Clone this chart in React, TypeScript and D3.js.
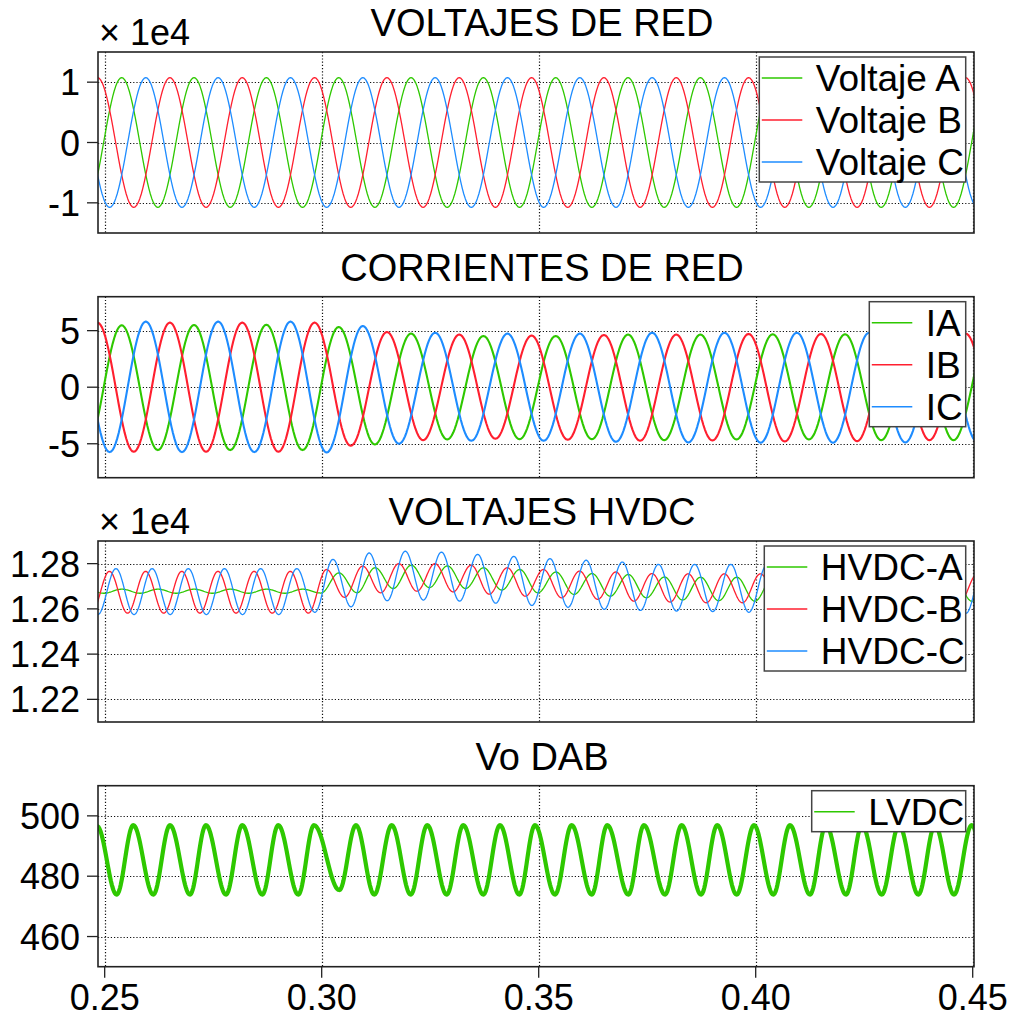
import React from 'react';
import * as d3 from 'd3';

// ---------- axes ----------
const X_DOMAIN = [0.24846, 0.4503];
const X_TICKS = [0.25, 0.3, 0.35, 0.4, 0.45];
const HALF_60HZ = 1 / 120;
const HALF_120HZ = 1 / 240;

// ---------- VOLTAJES DE RED (V), extrema every half period ----------
const VOLT_A_START = 0.24559; // first extremum (trough)
const VOLT_A = [-10750, 10750, -10750, 10750, -10750, 10750, -10750, 10750, -10750, 10750, -10750, 10750, -10750, 10750, -10750, 10750, -10750, 10750, -10750, 10750, -10750, 10750, -10750, 10750, -10750, 10750];
const VOLT_B_START = 0.24003; // trough
const VOLT_B = [-10750, 10750, -10750, 10750, -10750, 10750, -10750, 10750, -10750, 10750, -10750, 10750, -10750, 10750, -10750, 10750, -10750, 10750, -10750, 10750, -10750, 10750, -10750, 10750, -10750, 10750, -10750];
const VOLT_C_START = 0.24281; // peak
const VOLT_C = [10750, -10750, 10750, -10750, 10750, -10750, 10750, -10750, 10750, -10750, 10750, -10750, 10750, -10750, 10750, -10750, 10750, -10750, 10750, -10750, 10750, -10750, 10750, -10750, 10750, -10750];

// ---------- CORRIENTES DE RED (A) ----------
const CUR_A = [-5.56, 5.47, -5.56, 5.5, -5.56, 5.52, -5.56, 5.32, -5.06, 4.74, -4.62, 4.53, -4.6, 4.53, -4.6, 4.65, -4.68, 4.65, -4.62, 4.68, -4.62, 4.68, -4.68, 4.65, -4.68, 4.68];
const CUR_B = [-5.7, 5.7, -5.71, 5.71, -5.71, 5.71, -5.71, 5.71, -5.18, 4.88, -4.68, 4.65, -4.56, 4.56, -4.65, 4.62, -4.74, 4.65, -4.71, 4.71, -4.8, 4.71, -4.77, 4.71, -4.68, 4.74, -4.7];
const CUR_C = [5.8, -5.74, 5.8, -5.74, 5.8, -5.74, 5.8, -5.77, 5.41, -5.0, 4.82, -4.74, 4.74, -4.74, 4.74, -4.83, 4.82, -4.88, 4.82, -4.9, 4.82, -4.9, 4.82, -4.88, 4.82, -4.88];

// ---------- VOLTAJES HVDC (V), extrema every half period of 120 Hz ----------
const HVDC_A_START = 0.245645; // peak
const HVDC_A = [12687, 12669, 12687, 12669, 12687, 12669, 12687, 12669, 12687, 12669, 12687, 12669, 12687, 12670,
  12759, 12671, 12782, 12690, 12793, 12694, 12790, 12690, 12782, 12683, 12774, 12671, 12763, 12664, 12756, 12656,
  12752, 12649, 12741, 12639, 12740, 12636, 12740, 12634, 12740, 12634, 12740, 12634, 12740, 12634, 12740, 12634,
  12740, 12634, 12740, 12634, 12740];
const HVDC_B_START = 0.246935; // trough
const HVDC_B = [12581, 12766, 12581, 12766, 12581, 12766, 12581, 12766, 12581, 12766, 12581, 12766, 12581,
  12774, 12651, 12789, 12671, 12800, 12678, 12800, 12675, 12793, 12665, 12782, 12656, 12774, 12649, 12767, 12642,
  12763, 12634, 12756, 12630, 12755, 12627, 12755, 12627, 12755, 12628, 12755, 12628, 12755, 12628, 12755, 12628,
  12755, 12628, 12755, 12628, 12755];
const HVDC_C_START = 0.244263; // peak
const HVDC_C = [12778, 12575, 12778, 12575, 12778, 12575, 12778, 12575, 12778, 12575, 12778, 12575, 12778, 12585,
  12819, 12609, 12847, 12636, 12855, 12639, 12851, 12634, 12841, 12625, 12832, 12615, 12822, 12607, 12815, 12598,
  12807, 12593, 12797, 12590, 12797, 12588, 12797, 12585, 12795, 12580, 12795, 12580, 12795, 12580, 12795, 12580,
  12795, 12580, 12795, 12580, 12795];

// ---------- Vo DAB (V): extrema times and values ----------
const LVDC_T = [0.24825, 0.25276, 0.25659, 0.2612, 0.26505, 0.26965, 0.27334, 0.27795, 0.28171, 0.28631, 0.29,
  0.29461, 0.29823, 0.30406, 0.3079, 0.31212, 0.31613, 0.32051, 0.32433, 0.3288, 0.33263, 0.33724, 0.34108, 0.34553,
  0.34915, 0.35376, 0.3576, 0.36221, 0.36581, 0.37065, 0.37426, 0.3791, 0.38295, 0.3874, 0.39115, 0.39562, 0.39961,
  0.40406, 0.4079, 0.41251, 0.4162, 0.42081, 0.4245, 0.42903, 0.43302, 0.43747, 0.44131, 0.44569, 0.44977, 0.45399];
const LVDC_V = [496.6, 473.9, 496.9, 473.9, 496.9, 473.9, 496.9, 473.9, 496.9, 473.9, 496.9, 473.9, 496.9, 475.4,
  496.9, 473.9, 496.9, 473.9, 496.9, 473.9, 496.9, 473.9, 496.9, 473.9, 496.9, 473.9, 496.9, 473.9, 496.9, 473.9,
  496.9, 473.9, 496.9, 473.9, 496.9, 473.9, 496.9, 473.9, 496.9, 473.9, 496.9, 473.9, 496.9, 473.9, 496.9, 473.9,
  496.9, 473.9, 496.9, 473.9];

const GREEN = '#2ec800';
const RED = '#ff1f2f';
const BLUE = '#1e8cff';

const FONT = '"Liberation Sans", Arial, Helvetica, sans-serif';

type Series = { name: string; color: string; width: number; times: number[]; values: number[] };

const evenTimes = (start: number, half: number, n: number) => d3.range(n).map((i) => start + i * half);

function samplePoints(times: number[], values: number[]): [number, number][] {
  const pts: [number, number][] = [];
  for (let k = 0; k < times.length - 1; k++) {
    const t0 = times[k], t1 = times[k + 1];
    const v0 = values[k], v1 = values[k + 1];
    const n = 24;
    for (let j = 0; j < n; j++) {
      const s = j / n;
      pts.push([t0 + (t1 - t0) * s, v0 + (v1 - v0) * (1 - Math.cos(Math.PI * s)) / 2]);
    }
  }
  pts.push([times[times.length - 1], values[values.length - 1]]);
  return pts;
}

const X0 = 98, X1 = 974, PH = 181;

type PanelProps = {
  id: string;
  top: number;
  title: string;
  mult?: boolean;
  yDomain: [number, number];
  yTicks: number[];
  fmt: (v: number) => string;
  series: Series[];
  legendWidth: number;
  showX?: boolean;
};

function Panel(p: PanelProps) {
  const x = d3.scaleLinear().domain(X_DOMAIN).range([X0, X1]);
  const y = d3.scaleLinear().domain(p.yDomain).range([p.top + PH, p.top]);
  const line = d3.line<[number, number]>().x((d) => x(d[0])).y((d) => y(d[1]));
  const legTop = p.top + 5;
  const legRight = 965.7;
  const legLeft = legRight - p.legendWidth;
  const n = p.series.length;
  return (
    <g>
      <defs>
        <clipPath id={p.id}>
          <rect x={X0} y={p.top} width={X1 - X0} height={PH} />
        </clipPath>
      </defs>
      <rect x={X0} y={p.top} width={X1 - X0} height={PH} fill="#fff" />
      {X_TICKS.map((t) => (
        <line key={'vx' + t} x1={Math.round(x(t)) + 0.5} x2={Math.round(x(t)) + 0.5} y1={p.top} y2={p.top + PH} stroke="#111" strokeWidth={1.2} strokeDasharray="1.2,2" />
      ))}
      {p.yTicks.map((t) => (
        <line key={'hy' + t} x1={X0} x2={X1} y1={Math.round(y(t)) + 0.5} y2={Math.round(y(t)) + 0.5} stroke="#111" strokeWidth={1.2} strokeDasharray="1.2,2" />
      ))}
      <g clipPath={`url(#${p.id})`}>
        {p.series.map((s) => (
          <path key={s.name} d={line(samplePoints(s.times, s.values)) || ''} fill="none" stroke={s.color} strokeWidth={s.width} strokeLinejoin="round" />
        ))}
      </g>
      <rect x={X0} y={p.top} width={X1 - X0} height={PH} fill="none" stroke="#222" strokeWidth={1.6} />
      {p.yTicks.map((t) => (
        <g key={'yt' + t}>
          <line x1={X0 - 11} x2={X0} y1={y(t)} y2={y(t)} stroke="#222" strokeWidth={1.3} />
          <text x={80} y={y(t) + 13} textAnchor="end" fontSize={36} fontFamily={FONT} fill="#000">{p.fmt(t)}</text>
        </g>
      ))}
      {p.showX &&
        X_TICKS.map((t) => (
          <g key={'xt' + t}>
            <line x1={x(t)} x2={x(t)} y1={p.top + PH} y2={p.top + PH + 11} stroke="#222" strokeWidth={1.3} />
            <text x={x(t)} y={1010} textAnchor="middle" fontSize={36} fontFamily={FONT} fill="#000">{t.toFixed(2)}</text>
          </g>
        ))}
      <text x={542} y={p.top - 16} textAnchor="middle" fontSize={38} fontFamily={FONT} fill="#000">{p.title}</text>
      {p.mult && (
        <text x={99} y={p.top - 7} fontSize={36} fontFamily={FONT} fill="#000">× 1e4</text>
      )}
      <rect x={legLeft} y={legTop} width={p.legendWidth} height={42 * n - 1} fill="#fff" stroke="#444" strokeWidth={1.5} />
      {p.series.map((s, i) => {
        const cy = legTop + 21 + 42 * i;
        return (
          <g key={'lg' + s.name}>
            <line x1={legLeft + 2.5} x2={legLeft + 43} y1={cy} y2={cy} stroke={s.color} strokeWidth={1.5} />
            <text x={legLeft + 56.5} y={cy + 13} fontSize={37} fontFamily={FONT} fill="#000">{s.name}</text>
          </g>
        );
      })}
    </g>
  );
}

export default function App() {
  return (
    <svg width={1020} height={1018} style={{ position: 'absolute', left: 0, top: 0, background: '#fff' }}>
      <rect width={1020} height={1018} fill="#fff" />
      <Panel
        id="c1" top={52} title="VOLTAJES DE RED" mult yDomain={[-15000, 15000]} yTicks={[-10000, 0, 10000]}
        fmt={(v) => String(v / 1e4)} legendWidth={206.4}
        series={[
          { name: 'Voltaje A', color: GREEN, width: 1.3, times: evenTimes(VOLT_A_START, HALF_60HZ, VOLT_A.length), values: VOLT_A },
          { name: 'Voltaje B', color: RED, width: 1.3, times: evenTimes(VOLT_B_START, HALF_60HZ, VOLT_B.length), values: VOLT_B },
          { name: 'Voltaje C', color: BLUE, width: 1.3, times: evenTimes(VOLT_C_START, HALF_60HZ, VOLT_C.length), values: VOLT_C },
        ]}
      />
      <Panel
        id="c2" top={296.7} title="CORRIENTES DE RED" yDomain={[-8, 8]} yTicks={[-5, 0, 5]}
        fmt={(v) => String(v)} legendWidth={96.4}
        series={[
          { name: 'IA', color: GREEN, width: 2.1, times: evenTimes(VOLT_A_START, HALF_60HZ, CUR_A.length), values: CUR_A },
          { name: 'IB', color: RED, width: 2.1, times: evenTimes(VOLT_B_START, HALF_60HZ, CUR_B.length), values: CUR_B },
          { name: 'IC', color: BLUE, width: 2.1, times: evenTimes(VOLT_C_START, HALF_60HZ, CUR_C.length), values: CUR_C },
        ]}
      />
      <Panel
        id="c3" top={541} title="VOLTAJES HVDC" mult yDomain={[12100, 12900]} yTicks={[12200, 12400, 12600, 12800]}
        fmt={(v) => (v / 1e4).toFixed(2)} legendWidth={201.4}
        series={[
          { name: 'HVDC-A', color: GREEN, width: 1.3, times: evenTimes(HVDC_A_START, HALF_120HZ, HVDC_A.length), values: HVDC_A },
          { name: 'HVDC-B', color: RED, width: 1.3, times: evenTimes(HVDC_B_START, HALF_120HZ, HVDC_B.length), values: HVDC_B },
          { name: 'HVDC-C', color: BLUE, width: 1.3, times: evenTimes(HVDC_C_START, HALF_120HZ, HVDC_C.length), values: HVDC_C },
        ]}
      />
      <Panel
        id="c4" top={785.7} title="Vo DAB" yDomain={[450, 510]} yTicks={[460, 480, 500]}
        fmt={(v) => String(v)} legendWidth={154} showX
        series={[{ name: 'LVDC', color: GREEN, width: 4.2, times: LVDC_T, values: LVDC_V }]}
      />
    </svg>
  );
}
